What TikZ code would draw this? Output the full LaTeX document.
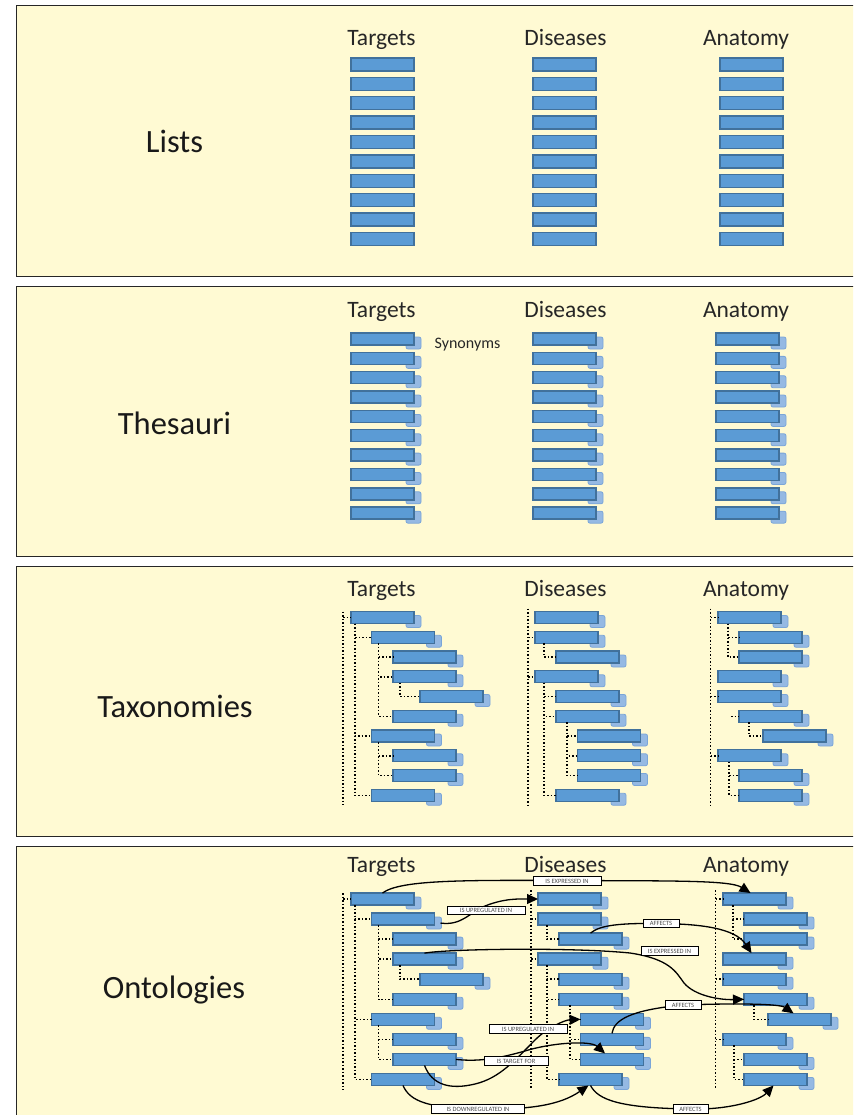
\documentclass[tikz,border=0pt]{standalone}
\usepackage{fontspec}
\setmainfont{Carlito}
\usetikzlibrary{arrows.meta,calc}

\definecolor{panelbg}{HTML}{FFFAD3}
\definecolor{barfill}{HTML}{5B9BD5}
\definecolor{barline}{HTML}{41719C}
\definecolor{synfill}{HTML}{95B9E3}
\definecolor{synline}{HTML}{7AA5D8}

\tikzset{
  panel/.style={draw=black!85, line width=0.9pt, fill=panelbg},
  bar/.style={draw=barline, fill=barfill, line width=1.4pt, minimum width=63pt,
    minimum height=12pt, inner sep=0pt, outer sep=0pt, anchor=north west},
  synbox/.style={draw=synline, fill=synfill, line width=0.8pt, rounded corners=2pt,
    minimum width=15pt, minimum height=12pt, inner sep=0pt, outer sep=0pt, anchor=north west},
  head/.style={font=\fontsize{23.5}{23.5}\selectfont, text=black!85, anchor=base},
  title/.style={font=\fontsize{32.5}{32.5}\selectfont, text=black!90},
  tree/.style={line width=1.5pt, dash pattern=on 1.5pt off 2pt, black},
  rel/.style={line width=1.3pt, black, -{Triangle[length=11pt,width=10pt]}},
  tag/.style={draw=black, line width=0.6pt, fill=white, font=\fontsize{6.5}{6.5}\selectfont,
    text=black!70, inner sep=0pt, minimum height=8.5pt},
}

% a term bar with its synonym tab behind it: name, x, y (top)
\newcommand\sbar[3]{%
  \node[synbox] (#1s) at (#2+55,#3+4) {};
  \node[bar] (#1) at (#2,#3) {};}

% target hierarchy: prefix, x, y of first row, row pitch
\newcommand\targetcol[4]{%
  \sbar{#1-1}{#2}{#3}
  \sbar{#1-2}{#2+20.5}{#3+#4}
  \sbar{#1-3}{#2+42}{#3+2*#4}
  \sbar{#1-4}{#2+42}{#3+3*#4}
  \sbar{#1-5}{#2+69}{#3+4*#4}
  \sbar{#1-6}{#2+42}{#3+5*#4}
  \sbar{#1-7}{#2+20.5}{#3+6*#4}
  \sbar{#1-8}{#2+42}{#3+7*#4}
  \sbar{#1-9}{#2+42}{#3+8*#4}
  \sbar{#1-10}{#2+20.5}{#3+9*#4}
  \coordinate (#1-rt) at (#2-8,#3);
  \coordinate (#1-rb) at (#2-8,#3+9.8*#4);
  \draw[tree] (#1-rt) -- (#1-rb);
  \draw[tree] (#1-1.west -| #1-rt) -- (#1-1.west);
  \foreach \c in {2,7,10} \draw[tree] ([xshift=4pt]#1-1.south west) |- (#1-\c.west);
  \foreach \c in {3,4,6} \draw[tree] ([xshift=7pt]#1-2.south west) |- (#1-\c.west);
  \draw[tree] ([xshift=7pt]#1-4.south west) |- (#1-5.west);
  \foreach \c in {8,9} \draw[tree] ([xshift=7pt]#1-7.south west) |- (#1-\c.west);
}

% disease hierarchy
\newcommand\diseasecol[4]{%
  \sbar{#1-1}{#2}{#3}
  \sbar{#1-2}{#2}{#3+#4}
  \sbar{#1-3}{#2+21}{#3+2*#4}
  \sbar{#1-4}{#2}{#3+3*#4}
  \sbar{#1-5}{#2+21}{#3+4*#4}
  \sbar{#1-6}{#2+21}{#3+5*#4}
  \sbar{#1-7}{#2+42.5}{#3+6*#4}
  \sbar{#1-8}{#2+42.5}{#3+7*#4}
  \sbar{#1-9}{#2+42.5}{#3+8*#4}
  \sbar{#1-10}{#2+21}{#3+9*#4}
  \coordinate (#1-rt) at (#2-7,#3-3);
  \coordinate (#1-rb) at (#2-7,#3+9.8*#4);
  \draw[tree] (#1-rt) -- (#1-rb);
  \foreach \c in {2,4} \draw[tree] (#1-\c.west -| #1-rt) -- (#1-\c.west);
  \draw[tree] ([xshift=9pt]#1-2.south west) |- (#1-3.west);
  \foreach \c in {5,6,10} \draw[tree] ([xshift=9pt]#1-4.south west) |- (#1-\c.west);
  \foreach \c in {7,8,9} \draw[tree] ([xshift=11pt]#1-6.south west) |- (#1-\c.west);
}

% anatomy hierarchy
\newcommand\anatomycol[4]{%
  \sbar{#1-1}{#2}{#3}
  \sbar{#1-2}{#2+21}{#3+#4}
  \sbar{#1-3}{#2+21}{#3+2*#4}
  \sbar{#1-4}{#2}{#3+3*#4}
  \sbar{#1-5}{#2}{#3+4*#4}
  \sbar{#1-6}{#2+21}{#3+5*#4}
  \sbar{#1-7}{#2+45}{#3+6*#4}
  \sbar{#1-8}{#2}{#3+7*#4}
  \sbar{#1-9}{#2+21}{#3+8*#4}
  \sbar{#1-10}{#2+21}{#3+9*#4}
  \coordinate (#1-rt) at (#2-7.5,#3-3);
  \coordinate (#1-rb) at (#2-7.5,#3+9.8*#4);
  \draw[tree] (#1-rt) -- (#1-rb);
  \foreach \c in {1,5,8} \draw[tree] (#1-\c.west -| #1-rt) -- (#1-\c.west);
  \foreach \c in {2,3} \draw[tree] ([xshift=10pt]#1-1.south west) |- (#1-\c.west);
  \draw[tree] ([xshift=-8pt]#1-6.west) -- (#1-6.west);
  \draw[tree] ([xshift=10pt]#1-6.south west) |- (#1-7.west);
  \foreach \c in {9,10} \draw[tree] ([xshift=11pt]#1-8.south west) |- (#1-\c.west);
}

\begin{document}
\begin{tikzpicture}[x=1pt,y=-1pt]
\useasboundingbox (0,0) rectangle (853,1115);
\clip (0,0) rectangle (853,1115);
\fill[white] (0,0) rectangle (853,1115);

% the four panels
\draw[panel] (16,5) rectangle (870,276);
\draw[panel] (16,286) rectangle (870,556);
\draw[panel] (16,566) rectangle (870,836);
\draw[panel] (16,846) rectangle (870,1130);

\node[title] (tLists) at (174.5,141) {Lists};
\node[title] (tThes) at (174.5,423) {Thesauri};
\node[title] (tTax) at (175,706) {Taxonomies};
\node[title] (tOnt) at (174,990) {Ontologies};

% column headings
\foreach \y/\p in {46/a,317.5/b,596/c,872/d} {
  \node[head] (hT\p) at (381.5,\y) {Targets};
  \node[head] (hD\p) at (565.5,\y) {Diseases};
  \node[head] (hA\p) at (746,\y) {Anatomy};
}

% lists
\foreach \i in {0,...,9} {
  \node[bar, minimum height=13pt] (lt\i) at (351,58+19.4*\i) {};
  \node[bar, minimum height=13pt] (ld\i) at (533,58+19.4*\i) {};
  \node[bar, minimum height=13pt] (la\i) at (720,58+19.4*\i) {};
}

% thesauri
\foreach \i in {0,...,9} {
  \sbar{st\i}{351}{333+19.35*\i}
  \sbar{sd\i}{533}{333+19.35*\i}
  \sbar{sa\i}{716}{333+19.35*\i}
}
\node[font=\fontsize{16}{16}\selectfont, text=black!85] (syn) at (467.5,345) {Synonyms};

% taxonomies
\targetcol{xt}{351}{611.5}{19.75}
\diseasecol{xd}{535}{611.5}{19.75}
\anatomycol{xa}{718}{611.5}{19.75}

% ontologies
\targetcol{ot}{351}{893}{20.05}
\diseasecol{od}{538}{893}{20.05}
\anatomycol{oa}{723}{893}{20.05}

% relations between the hierarchies
\draw[rel] (ot-1.north) .. controls (400,880) and (460,880) .. (567,880.5)
  .. controls (670,881) and (730,880) .. ([xshift=-4pt]oa-1.north);
\draw[rel] ([shift={(6,4)}]ot-2.east) .. controls (462,926) and (470,912) .. (485,906)
  .. controls (505,898) and (520,899) .. (od-1.west);
\draw[rel] (od-3.north) .. controls (600,925) and (620,923) .. (661,923.5)
  .. controls (700,924) and (735,928) .. ([xshift=-3pt]oa-4.north);
\draw[rel] (ot-4.north) .. controls (445,949) and (570,947) .. (630,953)
  .. controls (670,959) and (676,972) .. (684,983)
  .. controls (695,996) and (720,1000) .. (oa-6.west);
\draw[rel] (od-8.north) .. controls (614,1020) and (630,1010) .. (683,1005)
  .. controls (740,1003) and (780,1004) .. ([xshift=-6pt]oa-7.north);
\draw[rel] (ot-9.south) .. controls (432,1085) and (450,1090) .. (475,1084)
  .. controls (500,1078) and (515,1060) .. (535,1040)
  .. controls (548,1027) and (565,1020) .. (od-7.west);
\draw[rel] (ot-9.east) .. controls (480,1062) and (500,1058) .. (525,1051)
  .. controls (550,1043) and (590,1040) .. ([xshift=-7pt]od-9.north);
\draw[rel] (ot-10.south) .. controls (410,1102) and (430,1108) .. (478,1109)
  .. controls (530,1110) and (560,1105) .. ([xshift=-2pt]od-10.south);
\draw[rel] (od-10.south) .. controls (598,1100) and (620,1108) .. (690,1109)
  .. controls (730,1110) and (760,1100) .. ([xshift=-2pt]oa-10.south);

% relation names
\node[tag, minimum width=68pt] (r1) at (567,881) {IS EXPRESSED IN};
\node[tag, minimum width=78pt] (r2) at (486,910.5) {IS UPREGULATED IN};
\node[tag, minimum width=36pt] (r3) at (661,923.5) {AFFECTS};
\node[tag, minimum width=57pt] (r4) at (669.5,951) {IS EXPRESSED IN};
\node[tag, minimum width=36pt] (r5) at (683,1005) {AFFECTS};
\node[tag, minimum width=78pt] (r6) at (528,1029) {IS UPREGULATED IN};
\node[tag, minimum width=64pt] (r7) at (516,1061) {IS TARGET FOR};
\node[tag, minimum width=93pt] (r8) at (478,1109) {IS DOWNREGULATED IN};
\node[tag, minimum width=35pt] (r9) at (690.5,1109) {AFFECTS};
\end{tikzpicture}
\end{document}
